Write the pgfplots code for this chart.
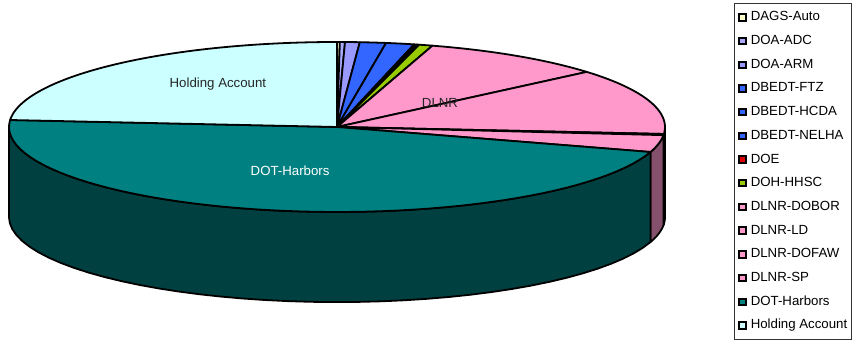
\documentclass[border=0pt]{standalone}
\usepackage{pgfplots}
\pgfplotsset{compat=1.18}
\usepackage{fontspec}
\setmainfont{Liberation Sans}
\definecolor{cYel}{RGB}{255,255,204}
\definecolor{cLav}{RGB}{170,170,255}
\definecolor{cLav2}{RGB}{153,153,255}
\definecolor{cBlue}{RGB}{51,102,255}
\definecolor{cRed}{RGB}{220,0,0}
\definecolor{cGrn}{RGB}{153,204,0}
\definecolor{cPink}{RGB}{255,153,204}
\definecolor{cPinkS}{RGB}{133,80,107}
\definecolor{cTeal}{RGB}{0,128,128}
\definecolor{cTealS}{RGB}{0,64,64}
\definecolor{cCyan}{RGB}{204,255,255}
% shares in percent, clockwise from 12 o'clock
\def\vA{0.14}  % DAGS-Auto
\def\vB{0.25}  % DOA-ADC
\def\vC{0.72}  % DOA-ARM
\def\vD{1.28}  % DBEDT-FTZ
\def\vE{1.39}  % DBEDT-HCDA
\def\vF{0.14}  % DBEDT-NELHA
\def\vG{0.11}  % DOE
\def\vH{0.67}  % DOH-HHSC
\def\vI{9.08}  % DLNR-DOBOR
\def\vJ{12.53} % DLNR-LD
\def\vK{0.22}  % DLNR-DOFAW
\def\vL{3.22}  % DLNR-SP
\def\vM{46.56} % DOT-Harbors
\def\vN{23.69} % Holding Account
\pgfmathsetmacro\aA{90}
\pgfmathsetmacro\aB{\aA-3.6*\vA}
\pgfmathsetmacro\aC{\aB-3.6*\vB}
\pgfmathsetmacro\aD{\aC-3.6*\vC}
\pgfmathsetmacro\aE{\aD-3.6*\vD}
\pgfmathsetmacro\aF{\aE-3.6*\vE}
\pgfmathsetmacro\aG{\aF-3.6*\vF}
\pgfmathsetmacro\aH{\aG-3.6*\vG}
\pgfmathsetmacro\aI{\aH-3.6*\vH}
\pgfmathsetmacro\aJ{\aI-3.6*\vI}
\pgfmathsetmacro\aK{\aJ-3.6*\vJ}
\pgfmathsetmacro\aL{\aK-3.6*\vK}
\pgfmathsetmacro\aM{\aL-3.6*\vL}
\pgfmathsetmacro\aN{\aM-3.6*\vM}
\pgfmathsetmacro\aO{\aN-3.6*\vN}
\def\dep{1.06}
\newcommand\topslice[3]{%
  \addplot[forget plot, fill=#3, draw=black, line width=1.8bp, line join=round,
    domain={#1}:{#2}, samples=60, variable=\t]
    ({cos(\t)},{sin(\t)}) -- (axis cs:0,0) -- cycle;}
\newcommand\sideslice[3]{%
  \addplot[forget plot, fill=#3, draw=black, line width=1.8bp, line join=round,
    domain=0:2.1, samples=85, variable=\s]
    ({cos(((\s<=1.1) ? ((#1)+((#2)-(#1))*min(\s,1)) : ((#2)+((#1)-(#2))*min(\s-1.1,1))))},
     {sin(((\s<=1.1) ? ((#1)+((#2)-(#1))*min(\s,1)) : ((#2)+((#1)-(#2))*min(\s-1.1,1)))) - \dep*max(0,min(1,(\s-1)/0.1))}) -- cycle;}
\begin{document}
\begin{tikzpicture}
\begin{axis}[
  scale only axis, width=656bp, height=260.1bp,
  xmin=-1, xmax=1, ymin=-2.06, ymax=1,
  hide axis, clip=false,
  legend image code/.code={\draw[#1, draw=black, line width=2bp] (0bp,-3.2bp) rectangle (6.4bp,3.2bp);},
  legend style={at={(1.1052,1.150)}, anchor=north west, draw=black!80, line width=0.8bp,
    font=\fontsize{13.3}{16}\selectfont, inner xsep=4bp, inner ysep=8bp,
    row sep=11.7bp, column sep=4bp,
    nodes={inner sep=0pt, text height=9.5bp, text depth=2.5bp}},
  legend cell align=left,
]
% side faces (front half)
\sideslice{0}{\aK}{cPinkS}
\sideslice{\aK}{\aL}{cPinkS}
\sideslice{\aL}{\aM}{cPinkS}
\sideslice{\aM}{-180}{cTealS}
% top faces
\topslice{\aA}{\aB}{cYel}
\topslice{\aB}{\aC}{cLav}
\topslice{\aC}{\aD}{cLav2}
\topslice{\aD}{\aE}{cBlue}
\topslice{\aE}{\aF}{cBlue}
\topslice{\aF}{\aG}{cBlue}
\topslice{\aG}{\aH}{cRed}
\topslice{\aH}{\aI}{cGrn}
\topslice{\aI}{\aJ}{cPink}
\topslice{\aJ}{\aK}{cPink}
\topslice{\aK}{\aL}{cPink}
\topslice{\aL}{\aM}{cPink}
\topslice{\aM}{\aN}{cTeal}
\topslice{\aN}{\aO}{cCyan}
% slice labels
\node[font=\fontsize{13.3}{16}\selectfont, text=black!85] at (axis cs:-0.363,0.506) {Holding Account};
\node[font=\fontsize{13.3}{16}\selectfont, text=white] at (axis cs:-0.143,-0.518) {DOT-Harbors};
\node[font=\fontsize{13.3}{16}\selectfont, text=black!85] at (axis cs:0.314,0.282) {DLNR};
% legend
\addlegendimage{fill=cYel}\addlegendentry{DAGS-Auto}
\addlegendimage{fill=cLav}\addlegendentry{DOA-ADC}
\addlegendimage{fill=cLav2}\addlegendentry{DOA-ARM}
\addlegendimage{fill=cBlue}\addlegendentry{DBEDT-FTZ}
\addlegendimage{fill=cBlue}\addlegendentry{DBEDT-HCDA}
\addlegendimage{fill=cBlue}\addlegendentry{DBEDT-NELHA}
\addlegendimage{fill=cRed}\addlegendentry{DOE}
\addlegendimage{fill=cGrn}\addlegendentry{DOH-HHSC}
\addlegendimage{fill=cPink}\addlegendentry{DLNR-DOBOR}
\addlegendimage{fill=cPink}\addlegendentry{DLNR-LD}
\addlegendimage{fill=cPink}\addlegendentry{DLNR-DOFAW}
\addlegendimage{fill=cPink}\addlegendentry{DLNR-SP}
\addlegendimage{fill=cTeal}\addlegendentry{DOT-Harbors}
\addlegendimage{fill=cCyan}\addlegendentry{Holding Account}
% page extent
\path (axis cs:-1.0274,-2.612) rectangle (axis cs:1.5854,1.494);
\end{axis}
\end{tikzpicture}
\end{document}
